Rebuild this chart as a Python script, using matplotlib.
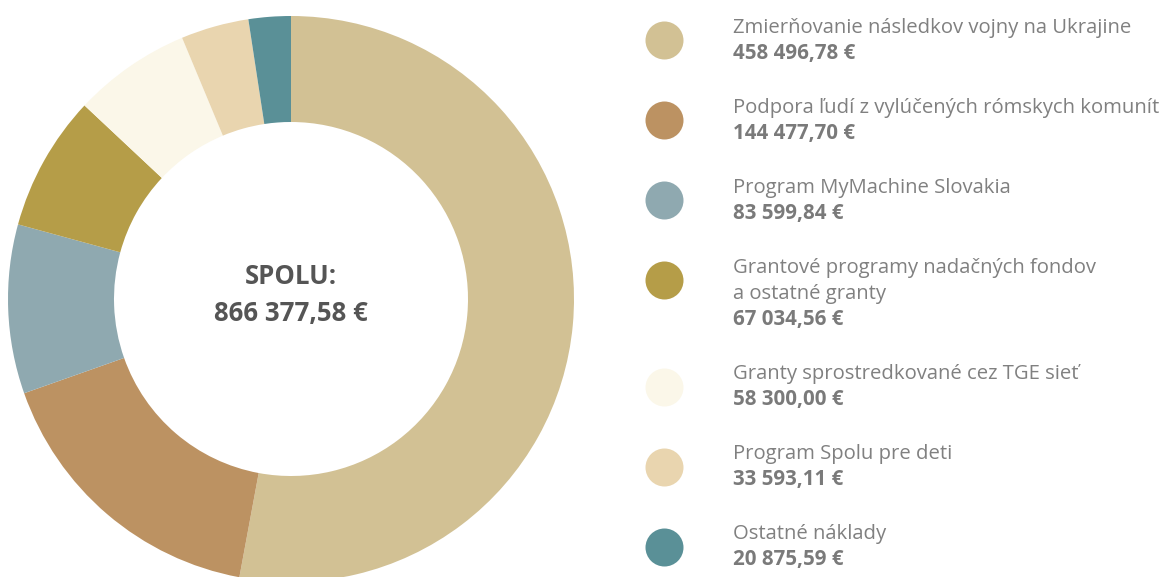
import matplotlib.pyplot as plt

labels = [
    "Zmierňovanie následkov vojny na Ukrajine",
    "Podpora ľudí z vylúčených rómskych komunít",
    "Program MyMachine Slovakia",
    "Grantové programy nadačných fondov\na ostatné granty",
    "Granty sprostredkované cez TGE sieť",
    "Program Spolu pre deti",
    "Ostatné náklady",
]
amounts = [458496.78, 144477.70, 83599.84, 67034.56, 58300.00, 33593.11, 20875.59]
colors = ["#D2C194", "#BC9262", "#8FA9B0", "#B59D48", "#FBF7E9", "#E9D5AF", "#5A9097"]


def euro(v):
    s = f"{v:,.2f}".replace(",", " ").replace(".", ",")
    return s + " €"


W, H = 1168, 577
fig = plt.figure(figsize=(W / 100, H / 100), dpi=100)
ax = fig.add_axes([0, 0, 1, 1])

# donut, clockwise from 12 o'clock
cx, cy, r = 291, H - 299, 283
ax.pie(amounts, colors=colors, startangle=90, counterclock=False,
       center=(cx, cy), radius=r,
       wedgeprops=dict(width=106, linewidth=0))
ax.set_xlim(0, W)
ax.set_ylim(0, H)
ax.set_aspect("auto")
ax.axis("off")

total = sum(amounts)
ax.text(cx, H - 277, "SPOLU:", ha="center", va="center", fontsize=18.5,
        fontweight="bold", color="#555555", family="Open Sans")
ax.text(cx, H - 314, euro(total), ha="center", va="center", fontsize=18.5,
        fontweight="bold", color="#555555", family="Open Sans")

# legend on the right
y = 28
line = 26.5
for lab, amt, col in zip(labels, amounts, colors):
    rows = lab.split("\n")
    ax.scatter([664], [H - (y + 12)], s=38 ** 2 * 0.5184, color=col, linewidths=0)
    for i, row in enumerate(rows):
        ax.text(733, H - (y + i * line), row, ha="left", va="center",
                fontsize=14.6, color="#808080", family="Open Sans")
    ax.text(733, H - (y + len(rows) * line - 1), euro(amt), ha="left", va="center",
            fontsize=14.8, fontweight="bold", color="#7a7a7a", family="Open Sans")
    y += (len(rows) + 1) * line + 27

fig.savefig("out.png", dpi=100)
